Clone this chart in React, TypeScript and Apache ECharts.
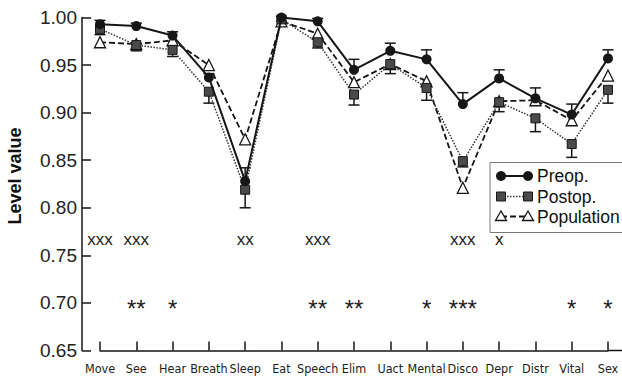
import React, { useEffect, useRef } from "react";
import * as echarts from "echarts";

const categories = ["Move", "See", "Hear", "Breath", "Sleep", "Eat", "Speech", "Elim", "Uact", "Mental", "Disco", "Depr", "Distr", "Vital", "Sex"];
const preop = [0.993, 0.991, 0.981, 0.937, 0.828, 1.0, 0.996, 0.945, 0.965, 0.956, 0.909, 0.936, 0.915, 0.898, 0.957];
const postop = [0.988, 0.971, 0.966, 0.922, 0.819, 0.998, 0.974, 0.919, 0.951, 0.926, 0.849, 0.911, 0.894, 0.867, 0.924];
const population = [0.974, 0.972, 0.976, 0.95, 0.872, 0.996, 0.983, 0.932, 0.951, 0.933, 0.821, 0.912, 0.913, 0.892, 0.939];
const preopErr = [0.004, 0.003, 0.004, 0.004, 0.014, 0.001, 0.003, 0.011, 0.008, 0.01, 0.012, 0.009, 0.011, 0.011, 0.009];
const postopErr = [0.006, 0.006, 0.007, 0.012, 0.019, 0.002, 0.006, 0.011, 0.01, 0.013, 0.006, 0.01, 0.014, 0.014, 0.014];
const xMarks = ["xxx", "xxx", "", "", "xx", "", "xxx", "", "", "", "xxx", "x", "", "", ""];
const starMarks = ["", "**", "*", "", "", "", "**", "**", "", "*", "***", "", "", "*", "*"];
const xMarkLevel = 0.767;
const starMarkLevel = 0.694;
const yMin = 0.65;
const yMax = 1.0;
const yInterval = 0.05;
const legendNames = ["Preop.", "Postop.", "Population"];

const INK = "#161616";
const SQUARE = "#4a4a4a";
const FONT = "'Liberation Sans', Arial, sans-serif";
const NARROW = "'DejaVu Sans Condensed', 'Liberation Sans Narrow', sans-serif";

export default function App() {
  const ref = useRef<HTMLDivElement>(null);

  useEffect(() => {
    const chart = echarts.init(ref.current!, null, { renderer: "svg" });

    const errRender = (dir: number) => (params: any, api: any) => {
      const x = api.value(0);
      const v = api.value(1);
      const e = api.value(2);
      const p0 = api.coord([x, v]);
      const p1 = api.coord([x, v + dir * e]);
      const w = 5.5;
      return {
        type: "group",
        children: [
          { type: "line", shape: { x1: p0[0], y1: p0[1], x2: p1[0], y2: p1[1] }, style: { stroke: INK, lineWidth: 1.5 } },
          { type: "line", shape: { x1: p1[0] - w, y1: p1[1], x2: p1[0] + w, y2: p1[1] }, style: { stroke: INK, lineWidth: 1.5 } },
        ],
      };
    };

    const markList = (arr: string[]) =>
      arr.map((t, i) => ({ i, t })).filter((m) => m.t !== "");
    const xList = markList(xMarks);
    const starList = markList(starMarks);

    const markRender = (list: { i: number; t: string }[], size: number) => (params: any, api: any) => {
      const p = api.coord([api.value(0), api.value(1)]);
      return {
        type: "text",
        x: p[0],
        y: p[1],
        style: {
          text: list[params.dataIndex].t,
          fontSize: size,
          fontFamily: FONT,
          fill: "#222",
          align: "center",
          verticalAlign: "middle",
        },
      };
    };

    const lx1 = 501;
    const lx2 = 528;
    const rows = [176, 196.5, 216.5];
    const tri = (cx: number, cy: number) => ({
      type: "polygon",
      shape: { points: [[cx, cy - 5.5], [cx - 5.5, cy + 4], [cx + 5.5, cy + 4]] },
      style: { fill: "#fff", stroke: INK, lineWidth: 1.3 },
    });

    const option: any = {
      animation: false,
      backgroundColor: "#fff",
      grid: { left: 100, right: 14, top: 17.5, bottom: 28.5, containLabel: false },
      xAxis: {
        type: "category",
        data: categories,
        boundaryGap: false,
        axisLine: { lineStyle: { color: INK, width: 1.5 } },
        axisTick: { inside: true, length: 9, lineStyle: { color: INK, width: 1.5 } },
        axisLabel: { color: "#222", fontSize: 12.5, fontFamily: NARROW, margin: 11, interval: 0 },
        splitLine: { show: false },
      },
      yAxis: {
        type: "value",
        min: yMin,
        max: yMax,
        interval: yInterval,
        offset: 18,
        axisLine: { show: true, lineStyle: { color: INK, width: 1.5 } },
        axisTick: { show: true, inside: true, length: 9, lineStyle: { color: INK, width: 1.5 } },
        axisLabel: { color: "#222", fontSize: 19, fontFamily: FONT, margin: 5, formatter: (v: number) => v.toFixed(2) },
        splitLine: { show: false },
      },
      series: [
        {
          type: "custom",
          name: "preopErr",
          renderItem: errRender(1),
          data: categories.map((c, i) => [i, preop[i], preopErr[i]]),
          z: 1,
          silent: true,
        },
        {
          type: "custom",
          name: "postopErr",
          renderItem: errRender(-1),
          data: categories.map((c, i) => [i, postop[i], postopErr[i]]),
          z: 1,
          silent: true,
        },
        {
          type: "line",
          name: legendNames[2],
          data: population,
          symbol: "triangle",
          symbolSize: 11,
          lineStyle: { color: INK, width: 1.8, type: [6, 3] },
          itemStyle: { color: "#fff", borderColor: INK, borderWidth: 1.3 },
          z: 3,
        },
        {
          type: "line",
          name: legendNames[1],
          data: postop,
          symbol: "rect",
          symbolSize: 9,
          lineStyle: { color: "#333", width: 1.5, type: [1.5, 1.5] },
          itemStyle: { color: SQUARE, borderColor: INK, borderWidth: 1 },
          z: 4,
        },
        {
          type: "line",
          name: legendNames[0],
          data: preop,
          symbol: "circle",
          symbolSize: 10,
          lineStyle: { color: INK, width: 2 },
          itemStyle: { color: INK, borderColor: INK, borderWidth: 0 },
          z: 5,
        },
        {
          type: "custom",
          name: "xMarks",
          renderItem: markRender(xList, 17),
          data: xList.map((m) => [m.i, xMarkLevel]),
          silent: true,
        },
        {
          type: "custom",
          name: "starMarks",
          renderItem: markRender(starList, 24),
          data: starList.map((m) => [m.i, starMarkLevel]),
          silent: true,
        },
      ],
      graphic: [
        { type: "line", shape: { x1: 608, y1: 350.5, x2: 622, y2: 350.5 }, style: { stroke: INK, lineWidth: 1.5 } },
        {
          type: "text",
          x: 15,
          y: 176,
          rotation: Math.PI / 2,
          style: { text: "Level value", fontSize: 18, fontWeight: "bold", fontFamily: FONT, fill: "#111", align: "center", verticalAlign: "middle" },
        },
        { type: "rect", shape: { x: 490, y: 162.5, width: 140, height: 70 }, style: { fill: "#fff", stroke: "#7a7a7a", lineWidth: 1 }, z: 10 },
        { type: "line", shape: { x1: lx1, y1: rows[0], x2: lx2, y2: rows[0] }, style: { stroke: INK, lineWidth: 2 }, z: 11 },
        { type: "circle", shape: { cx: lx1, cy: rows[0], r: 5 }, style: { fill: INK }, z: 11 },
        { type: "circle", shape: { cx: lx2, cy: rows[0], r: 5 }, style: { fill: INK }, z: 11 },
        { type: "line", shape: { x1: lx1, y1: rows[1], x2: lx2, y2: rows[1] }, style: { stroke: "#333", lineWidth: 1.5, lineDash: [1.5, 1.5] }, z: 11 },
        { type: "rect", shape: { x: lx1 - 4.5, y: rows[1] - 4.5, width: 9, height: 9 }, style: { fill: SQUARE, stroke: INK, lineWidth: 1 }, z: 11 },
        { type: "rect", shape: { x: lx2 - 4.5, y: rows[1] - 4.5, width: 9, height: 9 }, style: { fill: SQUARE, stroke: INK, lineWidth: 1 }, z: 11 },
        { type: "line", shape: { x1: lx1, y1: rows[2], x2: lx2, y2: rows[2] }, style: { stroke: INK, lineWidth: 1.8, lineDash: [6, 3] }, z: 11 },
        { ...tri(lx1, rows[2]), z: 12 },
        { ...tri(lx2, rows[2]), z: 12 },
        ...legendNames.map((n, k) => ({
          type: "text",
          x: 537,
          y: rows[k],
          z: 12,
          style: { text: n, fontSize: 17.5, fontFamily: FONT, fill: "#111", align: "left", verticalAlign: "middle" },
        })),
      ],
    };

    chart.setOption(option);
    return () => chart.dispose();
  }, []);

  return (
    <div
      ref={ref}
      style={{ position: "fixed", left: 0, top: 0, width: 622, height: 379, background: "#fff" }}
    />
  );
}
